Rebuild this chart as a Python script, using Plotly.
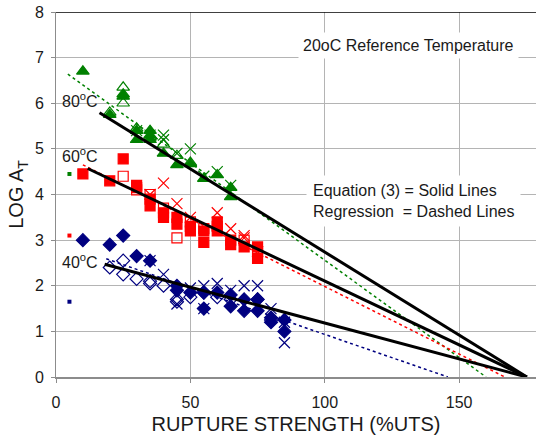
import plotly.graph_objects as go

# ---------------- data ----------------
# 80 C (green)
g_fill_x = [10, 20, 25, 25, 30, 30, 35, 35, 35, 40, 45, 50, 55, 60, 65, 65]
g_fill_y = [6.7, 5.75, 6.2, 6.15, 5.2, 5.4, 5.4, 5.3, 5.2, 4.9, 4.65, 4.67, 4.35, 4.43, 4.15, 3.95]
g_open_x = [20, 25, 25, 30, 35, 40, 45, 50]
g_open_y = [5.8, 6.35, 6.0, 5.45, 5.25, 5.1, 4.85, 4.7]
g_x_x = [30, 35, 40, 40, 45, 50, 55, 60, 65]
g_x_y = [5.4, 5.3, 5.3, 5.2, 4.9, 5.0, 4.4, 4.5, 4.2]

# 60 C (red)
r_fill_x = [10, 20, 25, 30, 30, 35, 35, 40, 40, 45, 45, 50, 50, 55, 55, 60, 60, 65, 65, 70, 75, 75]
r_fill_y = [4.45, 4.3, 4.78, 4.2, 4.15, 3.9, 3.75, 3.6, 3.5, 3.5, 3.35, 3.3, 3.2, 3.2, 2.95, 3.4, 3.2, 3.0, 2.9, 2.85, 2.85, 2.6]
r_open_x = [25, 30, 35, 40, 45, 50, 55, 60, 70, 75]
r_open_y = [4.4, 4.1, 4.0, 3.7, 3.05, 3.4, 3.25, 3.3, 3.0, 2.75]
r_x_x = [35, 40, 45, 50, 60, 65, 70, 70, 75]
r_x_y = [4.0, 4.25, 3.8, 3.5, 3.6, 3.25, 3.1, 3.05, 2.75]

# 40 C (blue)
b_fill_x = [10, 20, 25, 30, 35, 45, 45, 50, 55, 55, 60, 65, 65, 70, 70, 75, 75, 80, 80, 85, 85]
b_fill_y = [3.0, 2.9, 3.1, 2.65, 2.55, 2.0, 1.9, 1.85, 1.85, 1.5, 1.85, 1.55, 1.8, 1.45, 1.7, 1.45, 1.7, 1.3, 1.2, 1.25, 1.0]
b_open_x = [20, 25, 25, 30, 35, 35, 40, 45, 45, 50, 55, 60, 65, 75, 80]
b_open_y = [2.4, 2.55, 2.25, 2.15, 2.05, 2.1, 2.0, 1.7, 1.65, 1.75, 1.85, 1.75, 1.7, 1.7, 1.25]
b_x_x = [35, 40, 45, 50, 55, 55, 60, 65, 70, 75, 80, 85, 85]
b_x_y = [2.55, 2.25, 1.6, 1.95, 1.5, 2.0, 2.05, 1.9, 2.0, 2.0, 1.5, 0.75, 1.2]

# small legend-like squares at x = 5
sq_x = [5, 5, 5]
sq_y = [4.45, 3.1, 1.65]
sq_colors = ["#008000", "#ff0000", "#000080"]

# Equation (3) solid lines: [x_start, x_end], [y_start, y_end]
eq80_x = [16.2, 175.2]; eq80_y = [5.79, 0]
eq60_x = [11.8, 175.2]; eq60_y = [4.57, 0]
eq40_x = [18.1, 175.2]; eq40_y = [2.47, 0]

# Regression dotted lines
rg80_x = [4.4, 160]; rg80_y = [6.64, 0]
rg60_x = [10, 167]; rg60_y = [4.65, 0]
rg40_x = [18.7, 145.8]; rg40_y = [2.59, 0]

x_ticks = [0, 50, 100, 150]
y_ticks = [0, 1, 2, 3, 4, 5, 6, 7, 8]

GREEN = "#008000"
RED = "#ff0000"
BLUE = "#000080"
TXT = "#1a1a1a"

fig = go.Figure()

def add_line(x, y, color, dash, width):
    fig.add_trace(go.Scatter(x=x, y=y, mode="lines",
                             line=dict(color=color, dash=dash, width=width),
                             showlegend=False, hoverinfo="skip"))

# regression dotted lines (behind)
add_line(rg80_x, rg80_y, GREEN, "dot", 1.5)
add_line(rg60_x, rg60_y, RED, "dot", 1.5)
add_line(rg40_x, rg40_y, BLUE, "dot", 1.5)

def add_pts(x, y, color, symbol, size, lw=1.2):
    fig.add_trace(go.Scatter(x=x, y=y, mode="markers",
                             marker=dict(color=color, symbol=symbol, size=size,
                                         line=dict(color=color, width=lw)),
                             showlegend=False))

add_pts(b_open_x, b_open_y, BLUE, "diamond-open", 10)
add_pts(b_fill_x, b_fill_y, BLUE, "diamond", 10)
add_pts(b_x_x, b_x_y, BLUE, "x-thin-open", 11)
add_pts(r_open_x, r_open_y, RED, "square-open", 10)
add_pts(r_fill_x, r_fill_y, RED, "square", 10)
add_pts(r_x_x, r_x_y, RED, "x-thin-open", 11)
add_pts(g_open_x, g_open_y, GREEN, "triangle-up-open", 11)
add_pts(g_fill_x, g_fill_y, GREEN, "triangle-up", 11)
add_pts(g_x_x, g_x_y, GREEN, "x-thin-open", 11)

fig.add_trace(go.Scatter(x=sq_x, y=sq_y, mode="markers",
                         marker=dict(color=sq_colors, symbol="square", size=4),
                         showlegend=False))

# equation solid lines
add_line(eq80_x, eq80_y, "black", "solid", 3)
add_line(eq60_x, eq60_y, "black", "solid", 3)
add_line(eq40_x, eq40_y, "black", "solid", 3)

font_main = "Liberation Sans, Arial, sans-serif"

for txt, yv in [("80<sup>o</sup>C", 6.08), ("60<sup>o</sup>C", 4.86), ("40<sup>o</sup>C", 2.54)]:
    fig.add_annotation(x=9.1, y=yv, text=txt, showarrow=False,
                       font=dict(size=16, color=TXT, family=font_main),
                       xanchor="center", yanchor="middle")

fig.add_annotation(x=131.3, y=7.26, text="20oC Reference Temperature", showarrow=False,
                   font=dict(size=16, color=TXT, family=font_main),
                   bgcolor="white", borderpad=4, xanchor="center", yanchor="middle")

fig.add_annotation(x=93.1, y=3.86, text="Equation (3) = Solid Lines<br>Regression  = Dashed Lines",
                   showarrow=False, align="left",
                   font=dict(size=16, color=TXT, family=font_main),
                   bgcolor="white", borderpad=6, xanchor="left", yanchor="middle")

# top border line
fig.add_shape(type="line", xref="paper", yref="y", x0=0, x1=1, y0=8, y1=8,
              line=dict(color="black", width=1.3))

fig.update_layout(
    width=536, height=436,
    margin=dict(l=55.5, r=0, t=11.5, b=59),
    plot_bgcolor="white", paper_bgcolor="white",
    font=dict(family=font_main, color=TXT),
    showlegend=False,
)
fig.update_xaxes(range=[0, 178.6], tickvals=x_ticks, automargin=False,
                 showgrid=True, gridcolor="#b4b4b4", gridwidth=1,
                 zeroline=False, showline=True, linecolor="#8c8c8c", linewidth=2,
                 ticks="outside", ticklen=4, tickcolor="#8c8c8c",
                 ticklabelstandoff=6,
                 tickfont=dict(size=16, color=TXT),
                 title=dict(text="RUPTURE STRENGTH (%UTS)", font=dict(size=20, color=TXT), standoff=7))
fig.update_yaxes(range=[0, 8], tickvals=y_ticks, automargin=False,
                 showgrid=True, gridcolor="#b4b4b4", gridwidth=1,
                 zeroline=False, showline=True, linecolor="#8c8c8c", linewidth=1,
                 ticks="outside", ticklen=4, tickcolor="#8c8c8c",
                 ticklabelstandoff=4,
                 tickfont=dict(size=16, color=TXT),
                 title=dict(text="LOG A<sub>T</sub>", font=dict(size=20, color=TXT), standoff=5))

fig.write_html("out.html", config={"displayModeBar": False},
               post_script="document.body.style.margin='0';document.body.style.overflow='hidden';")
